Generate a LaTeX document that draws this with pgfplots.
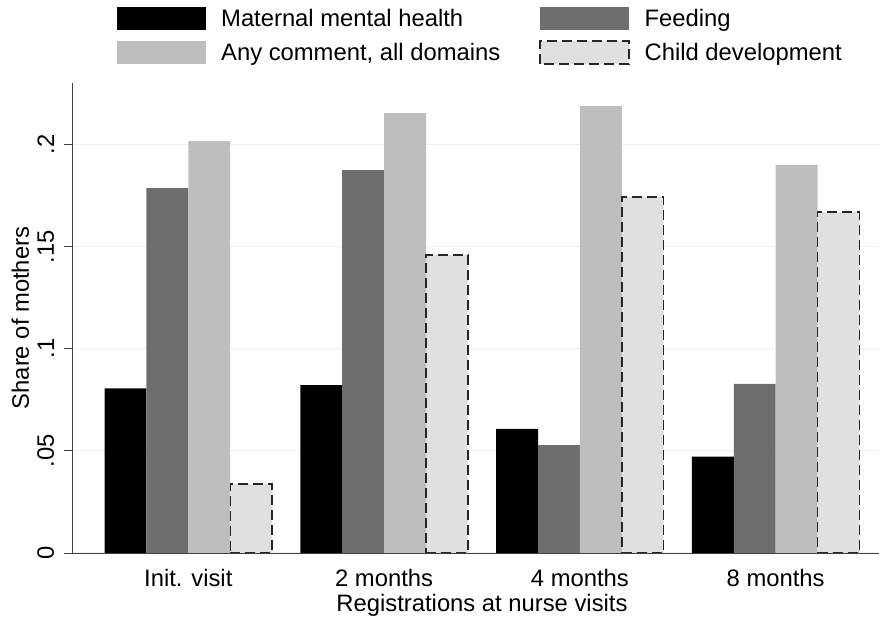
\documentclass[border=0pt]{standalone}
\usepackage{pgfplots}
\pgfplotsset{compat=1.18}
\usepackage{fontspec}
\setmainfont{Liberation Sans}
\definecolor{cMMH}{HTML}{000000}
\definecolor{cFeed}{HTML}{6E6E6E}
\definecolor{cAny}{HTML}{BEBEBE}
\definecolor{cChild}{HTML}{E0E0E0}
\definecolor{cGrid}{HTML}{EAF2F3}
\begin{document}
\begin{tikzpicture}[font=\fontsize{23.8}{28}\selectfont]
\begin{axis}[
  scale only axis,
  width=819.4pt, height=470pt,
  xmin=-0.5925, xmax=3.5925,
  ymin=0, ymax=0.23,
  ybar,
  legend image code/.code={\path[#1] (0pt,-11.5pt) rectangle (89pt,11.5pt);},
  axis lines*=left,
  axis line style={black!75, line width=0.9pt},
  xtick={0,1,2,3},
  xticklabels={Init. visit,2 months,4 months,8 months},
  xtick style={draw=none},
  ytick={0,0.05,0.1,0.15,0.2},
  yticklabels={0,.05,.1,.15,.2},
  ytick style={draw=black!75, line width=0.9pt},
  tick align=outside,
  major tick length=8pt,
  yticklabel style={rotate=90, anchor=south, inner sep=0pt, yshift=10pt},
  xticklabel style={inner sep=0pt, yshift=-8pt},
  ymajorgrids,
  grid style={cGrid, line width=1pt},
  xlabel={Registrations at nurse visits},
  ylabel={Share of mothers},
  xlabel style={inner sep=0pt, at={(axis description cs:0.5,-0.1106)}, anchor=center},
  ylabel style={inner sep=0pt, at={(axis description cs:-0.0634,0.5)}, anchor=center},
  legend columns=2,
  legend style={draw=none, fill=none, inner sep=0pt, outer sep=0pt,
    at={(0.5,1)}, anchor=north, yshift=76pt, xshift=-2.5pt,
    row sep=10.3pt,
    nodes={inner sep=0pt},
    /tikz/every odd column/.append style={column sep=15pt},
    /tikz/every even column/.append style={column sep=39pt}},
  legend cell align=left,
]
\addplot[bar width=0.214, bar shift=-0.321, fill=cMMH, draw=none]
  coordinates {(0,0.0806) (1,0.0822) (2,0.0607) (3,0.0471)};
\addlegendentry{Maternal mental health}
\addplot[bar width=0.214, bar shift=-0.107, fill=cFeed, draw=none]
  coordinates {(0,0.1786) (1,0.1874) (2,0.0528) (3,0.0827)};
\addlegendentry{Feeding}
\addplot[bar width=0.214, bar shift=0.107, fill=cAny, draw=none]
  coordinates {(0,0.2016) (1,0.2153) (2,0.2187) (3,0.1899)};
\addlegendentry{Any comment, all domains}
\addplot[bar width=0.214, bar shift=0.321, fill=cChild, draw=black!85, line width=1.4pt, dash pattern=on 10pt off 5pt]
  coordinates {(0,0.0338) (1,0.1458) (2,0.1742) (3,0.1669)};
\addlegendentry{Child development}
\end{axis}
\pgfresetboundingbox
\path ([xshift=-72.3pt,yshift=-64pt]current axis.south west) rectangle ([xshift=-12.7pt,yshift=83pt]current axis.north east);
\end{tikzpicture}
\end{document}
